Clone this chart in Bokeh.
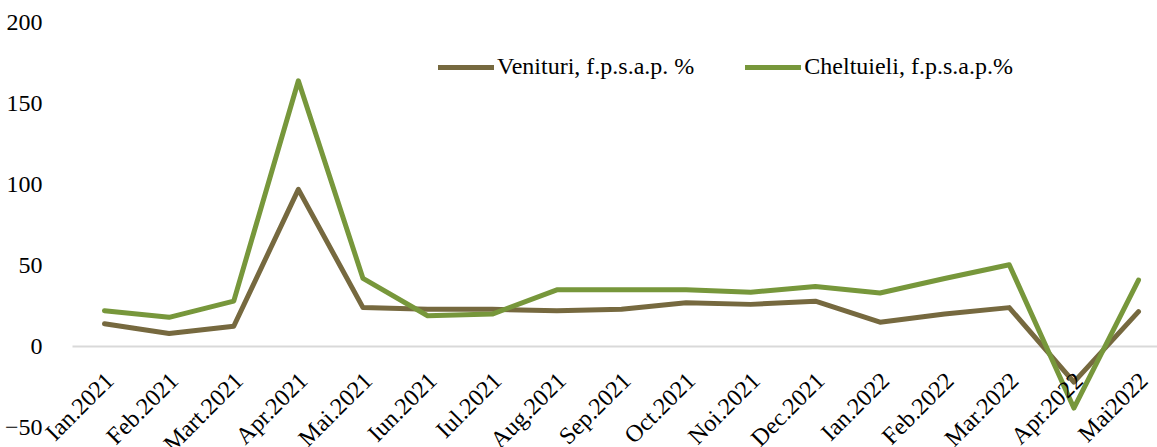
import math
from bokeh.plotting import figure
from bokeh.models import (Range1d, FixedTicker, ColumnDataSource, Legend, LegendItem,
                          LabelSet, BoxAnnotation)
from bokeh.embed import file_html
from bokeh.resources import INLINE

months = ["Ian.2021", "Feb.2021", "Mart.2021", "Apr.2021", "Mai.2021", "Iun.2021",
          "Iul.2021", "Aug.2021", "Sep.2021", "Oct.2021", "Noi.2021", "Dec.2021",
          "Ian.2022", "Feb.2022", "Mar.2022", "Apr.2022", "Mai2022"]
venituri = [14, 8, 12.5, 97, 24, 23, 23, 22, 23, 27, 26, 28, 15, 20, 24, -22, 21.5]
cheltuieli = [22, 18, 28, 164, 42, 19, 20, 35, 35, 35, 33.5, 37, 33, 42, 50.5, -38, 41]
y_ticks = [-50, 0, 50, 100, 150, 200]

idx = list(range(len(months)))
src = ColumnDataSource(dict(x=idx, ven=venituri, chel=cheltuieli))
lab_src = ColumnDataSource(dict(x=idx, y=[0] * len(idx), text=months))

FONT = "Liberation Serif"
BROWN = "#76693f"
GREEN = "#77973b"
PLOT_LEFT = -0.495   # where the value axis sits (left edge of the plot area)

p = figure(width=1157, height=447, output_backend="svg", toolbar_location=None,
           x_range=Range1d(-1.609, 16.294), y_range=Range1d(-62.35, 213.58),
           min_border_left=0, min_border_right=0, min_border_top=0, min_border_bottom=0)
p.outline_line_color = None
p.background_fill_color = "white"

# zero line (only gridline), starting at the value axis
zero_line = BoxAnnotation(left=PLOT_LEFT, bottom=0, top=0, fill_alpha=0,
                          line_color="#d9d9d9", line_alpha=1.0, line_width=2,
                          level="underlay")
p.add_layout(zero_line)
p.xgrid.visible = False
p.ygrid.visible = False

r1 = p.line("x", "ven", source=src, line_color=BROWN, line_width=5, line_join="round", line_cap="round")
r2 = p.line("x", "chel", source=src, line_color=GREEN, line_width=5, line_join="round", line_cap="round")

# y axis placed at the plot-area edge
p.yaxis.fixed_location = PLOT_LEFT
p.yaxis.ticker = FixedTicker(ticks=y_ticks)
p.yaxis.axis_line_color = None
p.yaxis.major_tick_line_color = None
p.yaxis.minor_tick_line_color = None
p.yaxis.major_label_standoff = 24
p.yaxis.major_label_text_font = FONT
p.yaxis.major_label_text_font_size = "24px"
p.yaxis.major_label_text_color = "#000000"

# category labels hanging from the zero line
p.xaxis.visible = False
labels = LabelSet(x="x", y="y", text="text", source=lab_src, angle=math.pi / 4,
                  text_align="right", text_baseline="middle", x_offset=5, y_offset=-30,
                  text_font=FONT, text_font_size="24px", text_color="#000000")
p.add_layout(labels)

legend = Legend(items=[LegendItem(label="Venituri, f.p.s.a.p. %", renderers=[r1]),
                       LegendItem(label="Cheltuieli, f.p.s.a.p.%", renderers=[r2])],
                orientation="horizontal", location=(438, 367))
legend.label_text_font = FONT
legend.label_text_font_size = "24px"
legend.label_text_color = "#000000"
legend.glyph_width = 56
legend.glyph_height = 24
legend.label_height = 24
legend.label_standoff = 3
legend.spacing = 51
legend.padding = 0
legend.margin = 0
legend.border_line_color = None
legend.background_fill_alpha = 0
p.add_layout(legend)

open("out.html", "w").write(file_html(p, INLINE))
